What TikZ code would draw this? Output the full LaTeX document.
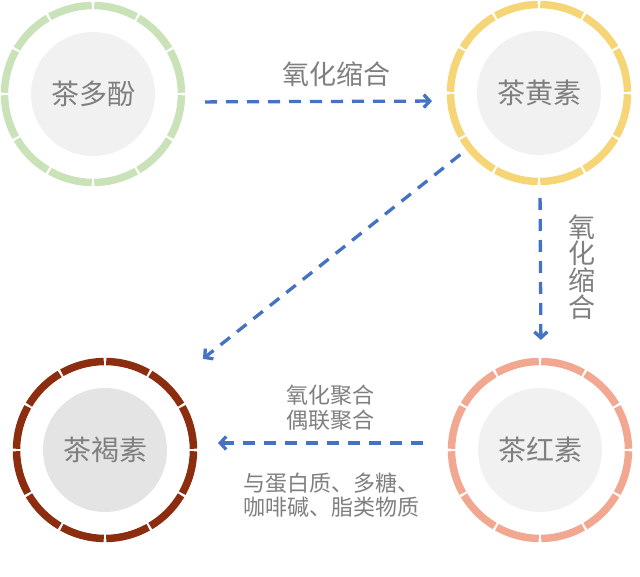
\documentclass[tikz,border=0pt]{standalone}
\usepackage{fontspec}
\newfontfamily\cjk{Noto Sans CJK SC}
\usetikzlibrary{arrows.meta}
\definecolor{ringgreen}{HTML}{C9E2B8}
\definecolor{ringyellow}{HTML}{F6D576}
\definecolor{ringsalmon}{HTML}{F2A890}
\definecolor{ringbrown}{HTML}{8C2D10}
\definecolor{corelight}{HTML}{F1F1F1}
\definecolor{coredark}{HTML}{E4E4E4}
\definecolor{textgray}{HTML}{7F7F7F}
\definecolor{flowblue}{HTML}{4472C4}
\begin{document}
\begin{tikzpicture}[x=1pt,y=-1pt,
        core/.style={circle,minimum size=124pt,inner sep=0pt,outer sep=30pt,text=textgray,font=\cjk\fontsize{28}{28}\selectfont},
        flow/.style={draw=flowblue,line width=3.3pt,dash pattern=on 12pt off 9pt,-{Straight Barb[length=6pt,width=13pt]}},
        lbl/.style={text=textgray,inner sep=0pt,align=center}]
        \useasboundingbox (0,0) rectangle (640,577);
        \node [core,fill=corelight] (tp) at (93,94) {茶多酚};
        \node [core,fill=corelight] (tf) at (539,93) {茶黄素};
        \node [core,fill=coredark] (tb) at (105,450) {茶褐素};
        \node [core,fill=corelight] (tr) at (540,450) {茶红素};
        \foreach \c/\col in {tp/ringgreen,tf/ringyellow,tr/ringsalmon,tb/ringbrown}
            \foreach \a in {0,30,...,330}
                \draw [\col,line width=7.5pt] (\c.center) ++(\a+0.8:88.5) arc (\a+0.8:\a+29.2:88.5);
        \draw [flow,shorten <=20pt,shorten >=15pt] ([yshift=-8pt]tp.east) -- ([yshift=-8pt]tf.west);
        \draw [flow,shorten <=13pt,shorten >=18pt] ([xshift=1pt]tf.south) -- ([xshift=1pt]tr.north);
        \draw [flow,shorten <=25pt,shorten >=21pt] ([yshift=7pt]tr.west) -- ([yshift=7pt]tb.east);
        \draw [flow,shorten <=8pt,shorten >=42pt] (tf.218) -- (tb.45);
        \node [lbl,font=\cjk\fontsize{27}{27}\selectfont] (l1) at (336,74) {氧化缩合};
        \node [lbl,font=\cjk\fontsize{27}{26.7}\selectfont] (l2) at (582,267) {氧\\化\\缩\\合};
        \node [lbl,font=\cjk\fontsize{22}{25}\selectfont] (l3) at (330,408) {氧化聚合\\偶联聚合};
        \node [lbl,font=\cjk\fontsize{22}{24}\selectfont] (l4) at (331,495) {与蛋白质、多糖、\\咖啡碱、脂类物质};
\end{tikzpicture}
\end{document}
